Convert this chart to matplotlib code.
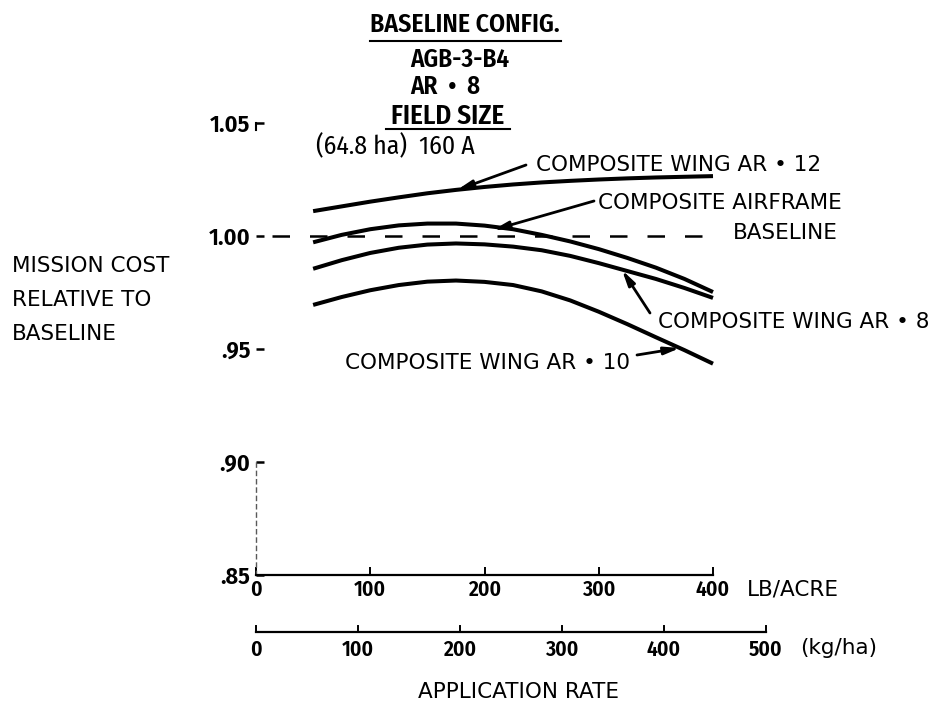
import matplotlib
matplotlib.use("Agg")
import matplotlib.pyplot as plt
from matplotlib.lines import Line2D

# ---------------- data ----------------
rate_lb = [50, 75, 100, 125, 150, 175, 200, 225, 250, 275, 300, 325, 350, 375, 400]
wing_ar12 = [1.0110, 1.0131, 1.0152, 1.0171, 1.0189, 1.0204, 1.0217, 1.0228,
             1.0237, 1.0244, 1.0250, 1.0255, 1.0259, 1.0262, 1.0265]
airframe = [0.9972, 1.0005, 1.0030, 1.0047, 1.0055, 1.0055, 1.0046, 1.0030,
            1.0005, 0.9976, 0.9942, 0.9903, 0.9860, 0.9810, 0.9752]
wing_ar8 = [0.9855, 0.9893, 0.9925, 0.9948, 0.9962, 0.9967, 0.9963, 0.9953,
            0.9937, 0.9912, 0.9880, 0.9845, 0.9810, 0.9770, 0.9726]
wing_ar10 = [0.9695, 0.9730, 0.9760, 0.9783, 0.9798, 0.9803, 0.9797, 0.9783,
             0.9755, 0.9715, 0.9665, 0.9610, 0.9552, 0.9495, 0.9435]
baseline_value = 1.00

y_ticks = [0.85, 0.90, 0.95, 1.00, 1.05]
y_tick_labels = [".85", ".90", ".95", "1.00", "1.05"]
lb_ticks = [0, 100, 200, 300, 400]
kg_ticks = [0, 100, 200, 300, 400, 500]
KG_PER_LB_ACRE = 1.12085

W, H = 941, 703
NARROW = ["Fira Sans Condensed", "DejaVu Sans"]
WIDE = ["DejaVu Sans"]
LS = 15.5

fig = plt.figure(figsize=(W / 100, H / 100), dpi=100)
ax = fig.add_axes([256 / W, 1 - 575 / H, 457 / W, 452 / H])
ax.set_xlim(0, 400)
ax.set_ylim(0.85, 1.05)

def fx(px):
    return px / W

def fy(py):
    return 1 - py / H

# curves
for ys in (wing_ar12, airframe, wing_ar8, wing_ar10):
    ax.plot(rate_lb, ys, color="black", lw=2.9, solid_capstyle="butt",
            solid_joinstyle="round", clip_on=False)

# dashed baseline
ax.plot([14, 400], [baseline_value, baseline_value], color="black", lw=1.8,
        dashes=(7, 8), clip_on=False)

# spines
for s in ("top", "right"):
    ax.spines[s].set_visible(False)
ax.spines["bottom"].set_linewidth(1.6)
ax.spines["left"].set_bounds(0.85, 0.90)
ax.spines["left"].set_linewidth(1.0)
ax.spines["left"].set_linestyle((0, (3, 3)))
ax.spines["left"].set_color("0.35")
ax.plot([0, 0], [1.05, 1.047], color="black", lw=1.5, clip_on=False)

ax.set_yticks(y_ticks)
ax.set_yticklabels(y_tick_labels, family=NARROW, fontsize=17.5, fontweight="semibold")
ax.tick_params(axis="y", direction="in", length=6, width=1.8, pad=4)
ax.set_xticks(lb_ticks)
ax.set_xticklabels([str(t) for t in lb_ticks], family=NARROW, fontsize=15.5,
                   fontweight="semibold")
ax.tick_params(axis="x", direction="in", length=6, width=1.4, pad=3)

# second (kg/ha) axis drawn below
y_kg = 0.85 - 57 * 0.20 / 452
kg_x = [k / KG_PER_LB_ACRE for k in kg_ticks]
ax.plot([kg_x[0], kg_x[-1]], [y_kg, y_kg], color="black", lw=1.6, clip_on=False)
for k, xv in zip(kg_ticks, kg_x):
    ax.plot([xv, xv], [y_kg, y_kg + 0.0027], color="black", lw=1.4, clip_on=False)
    ax.text(xv, y_kg - 0.0030, str(k), ha="center", va="top", family=NARROW,
            fontsize=15.5, fontweight="semibold", clip_on=False)

def pxd(px, py):
    return ((px - 256) / 457 * 400, 0.85 + (575 - py) / 452 * 0.20)

ax.text(*pxd(747, 590), "LB/ACRE", ha="left", va="center", family=WIDE,
        fontsize=LS, clip_on=False)
ax.text(*pxd(800, 648), "(kg/ha)", ha="left", va="center", family=WIDE,
        fontsize=LS, clip_on=False)
fig.text(fx(418), fy(692), "APPLICATION RATE", ha="left", va="center",
         family=WIDE, fontsize=LS)

# y label
for i, line in enumerate(["MISSION COST", "RELATIVE TO", "BASELINE"]):
    fig.text(fx(12), fy(266 + 34 * i), line, ha="left", va="center",
             family=WIDE, fontsize=LS)

# header block
fig.text(fx(465), fy(25), "BASELINE CONFIG.", ha="center", va="center",
         family=NARROW, fontsize=18.5, fontweight="semibold")
fig.add_artist(Line2D([fx(370), fx(561)], [fy(41), fy(41)], color="black", lw=1.5))
fig.text(fx(460), fy(60), "AGB-3-B4", ha="center", va="center",
         family=NARROW, fontsize=18, fontweight="semibold")
fig.text(fx(445), fy(87), "AR  \u2022  8", ha="center", va="center",
         family=NARROW, fontsize=18, fontweight="semibold")
fig.text(fx(448), fy(116), "FIELD SIZE", ha="center", va="center",
         family=NARROW, fontsize=19.5, fontweight="semibold")
fig.add_artist(Line2D([fx(386), fx(510)], [fy(129), fy(129)], color="black", lw=1.5))
fig.text(fx(395), fy(147), "(64.8 ha)  160 A", ha="center", va="center",
         family=NARROW, fontsize=18.5)

arrow = dict(arrowstyle="-|>,head_length=0.9,head_width=0.22", color="black",
             lw=2.0, shrinkA=0, shrinkB=0)

labels = [
    ("COMPOSITE WING AR \u2022 12", (536, 165), (526, 165), (457, 190)),
    ("COMPOSITE AIRFRAME", (598, 203), (594, 201), (493, 230)),
    ("COMPOSITE WING AR \u2022 8", (658, 322), (650, 313), (622, 270)),
    ("COMPOSITE WING AR \u2022 10", (345, 363), (637, 355), (680, 348)),
]
for text, tpos, a0, a1 in labels:
    ax.text(*pxd(*tpos), text, ha="left", va="center", family=WIDE,
            fontsize=LS, clip_on=False)
    ax.annotate("", xy=pxd(*a1), xytext=pxd(*a0), arrowprops=arrow,
                annotation_clip=False)
ax.text(*pxd(733, 233), "BASELINE", ha="left", va="center", family=WIDE,
        fontsize=LS, clip_on=False)

fig.savefig("out.png", dpi=100)
